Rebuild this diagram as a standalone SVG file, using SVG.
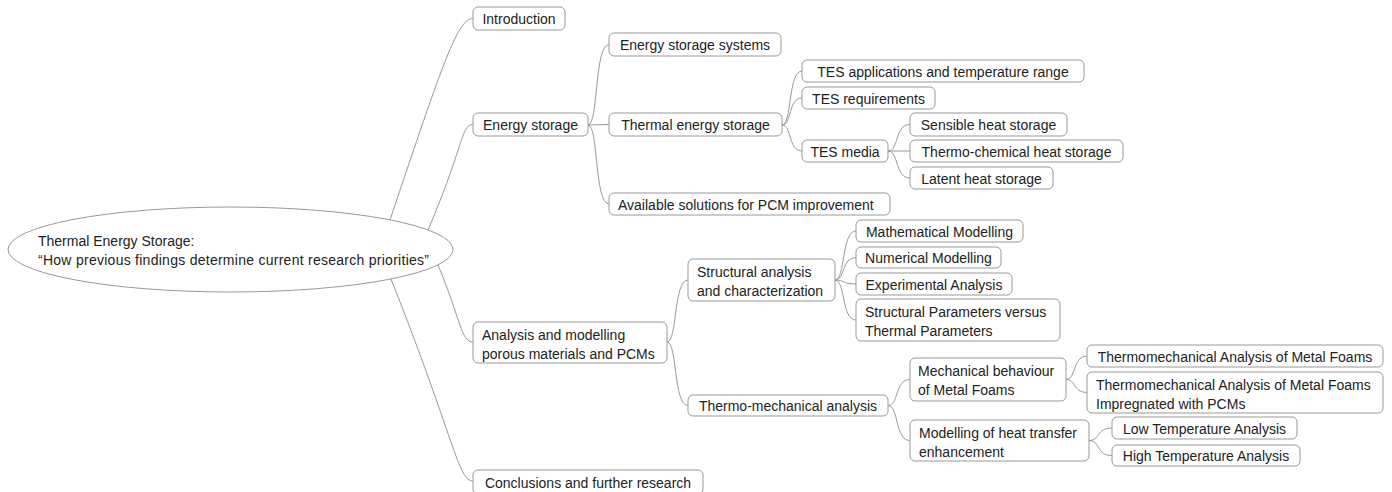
<svg xmlns="http://www.w3.org/2000/svg" width="1392" height="492" viewBox="0 0 1392 492">
<style>
.n rect{fill:#fff;stroke:#999;stroke-width:1}
.root ellipse{fill:#fff;stroke:#999;stroke-width:1}
text{font-family:"Liberation Sans",Arial,sans-serif;font-size:14px;fill:#222}
.c{text-anchor:middle}
#connectors path{fill:none;stroke:#999;stroke-width:1}
</style>
<rect width="1392" height="492" fill="#fff"/>
<g id="connectors">
<path d="M390,220 C444,59 458,18.5 473,18.5"/>
<path d="M428,230 C464,146 461,124.5 473,124.5"/>
<path d="M438,265 C461,320 461,342 473,342"/>
<path d="M391,279 C455,440 458,481 473,481"/>
<path d="M588,125 C598.5,125 594.3,44.5 609,44.5"/>
<path d="M588,125 L609,124.5"/>
<path d="M588,125 C598.5,125 594.3,204 609,204"/>
<path d="M782,125 C792,125 788,71 802,71"/>
<path d="M782,125 C792,125 788,98 802,98"/>
<path d="M782,125 C792,125 788,151 802,151"/>
<path d="M888,151 C899,151 894.6,124.5 910,124.5"/>
<path d="M888,151 L910,151"/>
<path d="M888,151 C899,151 894.6,178 910,178"/>
<path d="M667,342 C677.5,342 673.3,280 688,280"/>
<path d="M667,342 C677.5,342 673.3,405.5 688,405.5"/>
<path d="M835,280 C845.5,280 841.3,231 856,231"/>
<path d="M835,280 C845.5,280 841.3,257.5 856,257.5"/>
<path d="M835,280 C845.5,280 841.3,284 856,284"/>
<path d="M835,280 C845.5,280 841.3,320 856,320"/>
<path d="M888,405.5 C899,405.5 894.6,379.5 910,379.5"/>
<path d="M888,405.5 C899,405.5 894.6,440.5 910,440.5"/>
<path d="M1066,379.5 C1076.5,379.5 1072.3,356 1087,356"/>
<path d="M1066,379.5 C1076.5,379.5 1072.3,392.5 1087,392.5"/>
<path d="M1089,440.5 C1100.5,440.5 1095.9,428 1112,428"/>
<path d="M1089,440.5 C1100.5,440.5 1095.9,455.5 1112,455.5"/>
</g>
<g id="root" class="root">
<ellipse cx="230.5" cy="249.5" rx="222.5" ry="42.5"/>
<text x="38" y="246">Thermal Energy Storage:</text>
<text x="38" y="265" textLength="391" lengthAdjust="spacing">“How previous findings determine current research priorities”</text>
</g>
<g id="introduction" class="n"><rect x="473" y="7" width="92" height="23" rx="5"/><text class="c" x="519" y="24">Introduction</text></g>
<g id="energy-storage" class="n"><rect x="473" y="113" width="115" height="23" rx="5"/><text class="c" x="530.5" y="130">Energy storage</text></g>
<g id="energy-storage-systems" class="n"><rect x="609" y="33" width="172" height="23" rx="5"/><text class="c" x="695" y="50">Energy storage systems</text></g>
<g id="thermal-energy-storage" class="n"><rect x="609" y="113" width="173" height="23" rx="5"/><text class="c" x="695.5" y="130">Thermal energy storage</text></g>
<g id="available-solutions" class="n"><rect x="609" y="193" width="281" height="22" rx="5"/><text x="618" y="209.5">Available solutions for PCM improvement</text></g>
<g id="tes-applications" class="n"><rect x="802" y="60" width="282" height="22" rx="5"/><text class="c" x="943" y="76.5">TES applications and temperature range</text></g>
<g id="tes-requirements" class="n"><rect x="802" y="87" width="133" height="22" rx="5"/><text class="c" x="868.5" y="103.5">TES requirements</text></g>
<g id="tes-media" class="n"><rect x="802" y="140" width="86" height="22" rx="5"/><text class="c" x="845" y="156.5">TES media</text></g>
<g id="sensible-heat" class="n"><rect x="910" y="113" width="157" height="23" rx="5"/><text class="c" x="988.5" y="130">Sensible heat storage</text></g>
<g id="thermo-chemical-heat" class="n"><rect x="910" y="140" width="213" height="22" rx="5"/><text class="c" x="1016.5" y="156.5">Thermo-chemical heat storage</text></g>
<g id="latent-heat" class="n"><rect x="910" y="167" width="143" height="22" rx="5"/><text class="c" x="981.5" y="183.5">Latent heat storage</text></g>
<g id="analysis-modelling" class="n"><rect x="473" y="322" width="194" height="41" rx="5"/><text x="482" y="339.5">Analysis and modelling</text><text x="482" y="358.5">porous materials and PCMs</text></g>
<g id="structural-analysis" class="n"><rect x="688" y="259" width="147" height="42" rx="5"/><text x="697" y="277">Structural analysis</text><text x="697" y="296">and characterization</text></g>
<g id="mathematical-modelling" class="n"><rect x="856" y="220" width="167" height="22" rx="5"/><text class="c" x="939.5" y="236.5">Mathematical Modelling</text></g>
<g id="numerical-modelling" class="n"><rect x="856" y="247" width="145" height="21" rx="5"/><text class="c" x="928.5" y="263">Numerical Modelling</text></g>
<g id="experimental-analysis" class="n"><rect x="856" y="273" width="156" height="22" rx="5"/><text class="c" x="934" y="289.5">Experimental Analysis</text></g>
<g id="structural-parameters" class="n"><rect x="856" y="299" width="204" height="42" rx="5"/><text x="865" y="317">Structural Parameters versus</text><text x="865" y="336">Thermal Parameters</text></g>
<g id="thermo-mechanical-analysis" class="n"><rect x="688" y="395" width="200" height="21" rx="5"/><text class="c" x="788" y="411">Thermo-mechanical analysis</text></g>
<g id="mechanical-behaviour" class="n"><rect x="910" y="358" width="156" height="43" rx="5"/><text x="918" y="376">Mechanical behaviour</text><text x="918" y="395">of Metal Foams</text></g>
<g id="tma-metal-foams" class="n"><rect x="1087" y="345" width="296" height="22" rx="5"/><text class="c" x="1235" y="361.5">Thermomechanical Analysis of Metal Foams</text></g>
<g id="tma-metal-foams-pcm" class="n"><rect x="1087" y="372" width="296" height="41" rx="5"/><text x="1096" y="389.5">Thermomechanical Analysis of Metal Foams</text><text x="1096" y="408.5">Impregnated with PCMs</text></g>
<g id="modelling-heat-transfer" class="n"><rect x="910" y="420" width="179" height="41" rx="5"/><text x="919" y="437.5">Modelling of heat transfer</text><text x="919" y="456.5">enhancement</text></g>
<g id="low-temperature" class="n"><rect x="1112" y="417" width="185" height="22" rx="5"/><text class="c" x="1204.5" y="433.5">Low Temperature Analysis</text></g>
<g id="high-temperature" class="n"><rect x="1112" y="445" width="188" height="21" rx="5"/><text class="c" x="1206" y="461">High Temperature Analysis</text></g>
<g id="conclusions" class="n"><rect x="473" y="470" width="230" height="24" rx="5"/><text class="c" x="588" y="487.5">Conclusions and further research</text></g>
</svg>
